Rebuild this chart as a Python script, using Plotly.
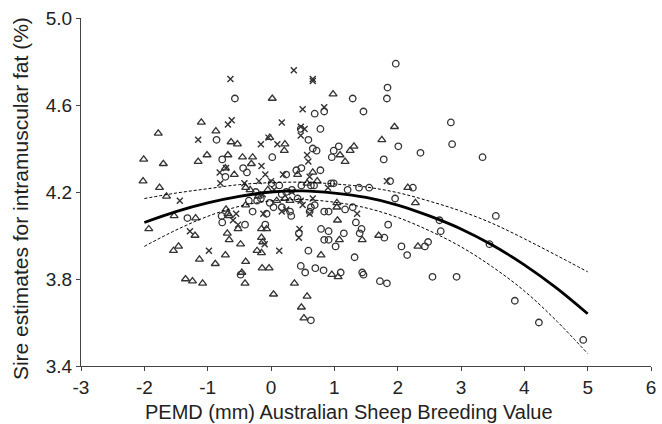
import plotly.graph_objects as go

# Sire groups: triangles, crosses, circles
tri_x = [0.02, 0.98, -1.10, -1.78, -0.87, -0.63, -0.53, -0.02, 0.22, 0.21, 1.31, 1.25, 1.09, 1.17, 1.75, 1.95,
         -2.01, -1.70, -1.15, -1.01, -0.68, -0.45, -0.29, -0.31, -0.72, -0.58, -0.40, -0.33, -2.02, -1.76, -1.65,
         0.42, 0.66, 2.16, 2.28, -0.05, -0.20, 0.22, 0.30, 0.57, 0.73, 0.09, 1.04, 1.04, 1.05, -0.40, -0.68, -0.71,
         -0.66, -1.19, -1.53, -1.93, -1.20, -0.69, -0.66, -0.52, -0.15, -0.07, -0.15, -0.13, -0.22, -0.15, -1.54,
         -1.46, -1.13, -0.88, -0.72, -0.48, -0.40, -0.46, -0.41, -1.35, -1.24, -1.08, -0.14, -0.03, 0.04, 0.37,
         0.57, 0.48, 0.52, 0.79, 1.08, 1.44, 1.70, 2.32, 0.96, 1.06]
tri_y = [4.63, 4.65, 4.52, 4.47, 4.48, 4.43, 4.42, 4.45, 4.42, 4.39, 4.41, 4.39, 4.37, 4.34, 4.44, 4.50,
         4.35, 4.33, 4.34, 4.37, 4.37, 4.36, 4.36, 4.33, 4.31, 4.28, 4.22, 4.21, 4.25, 4.22, 4.18,
         4.28, 4.29, 4.22, 4.15, 4.21, 4.18, 4.17, 4.16, 4.24, 4.25, 4.16, 4.15, 4.13, 4.07, 4.14, 4.10, 4.12,
         4.09, 4.08, 4.09, 4.03, 4.00, 4.01, 3.98, 4.03, 4.03, 4.03, 3.99, 3.97, 3.93, 3.92, 3.93,
         3.95, 3.89, 3.87, 3.91, 3.96, 3.88, 3.83, 3.78, 3.80, 3.79, 3.78, 3.85, 3.85, 3.73, 3.78,
         3.72, 3.67, 3.62, 3.91, 3.98, 3.98, 4.00, 3.95, 3.82, 3.81]

crs_x = [0.36, -0.64, 0.66, 0.66, 0.50, 0.84, -0.68, -0.62, -1.15, 0.17, 0.47, 0.53, 0.47, -0.16, -0.04, 0.10,
         -0.15, 0.57, 0.59, -0.81, -0.71, -0.80, -0.42, -1.44, -0.09, -0.19, 0.19, 0.61, 0.00, 1.83, -0.13, 0.05,
         0.33, 0.90, 0.47, 0.50, 0.66, 0.61, 1.36, -0.55, -0.60, -0.52, -0.12, 0.17, 0.24, -1.28, -0.98, -0.10,
         0.13, 0.45, 0.44]
crs_y = [4.76, 4.72, 4.72, 4.71, 4.58, 4.59, 4.51, 4.53, 4.44, 4.52, 4.50, 4.49, 4.46, 4.42, 4.45, 4.42,
         4.32, 4.37, 4.34, 4.29, 4.31, 4.24, 4.24, 4.16, 4.28, 4.25, 4.28, 4.27, 4.25, 4.25, 4.19, 4.21,
         4.20, 4.22, 4.16, 4.14, 4.17, 4.10, 4.10, 4.10, 4.07, 4.05, 4.10, 4.11, 4.12, 4.02, 3.93, 3.96,
         3.93, 4.03, 3.99]

cir_x = [-0.57, 1.29, 1.46, 1.84, 1.83, 1.97, 0.69, 0.84, 0.47, 0.78, 0.59, -0.86, 0.66, 0.72, 1.07, 0.99,
         0.96, 1.78, 2.01, 2.36, 2.84, 2.86, 3.34, 1.88, 2.24, -0.77, 0.02, -0.72, -0.44, -0.38, 0.78, 0.40,
         0.48, 0.24, 0.13, 0.01, -0.24, -0.22, -0.16, 0.17, 0.24, 0.33, 0.48, 0.63, 0.68, 0.95, 0.99, 1.21,
         1.39, 1.55, 1.96, 0.42, 0.17, 0.30, 0.32, 0.63, 0.61, 0.84, 0.91, 1.17, 1.29, 1.34, 1.43, 1.40,
         1.15, 0.79, 0.91, 0.84, 0.91, 1.02, 1.79, 1.85, 2.06, 2.15, 2.43, 2.48, 2.66, 2.68, 3.55, 3.45,
         2.55, 2.93, 1.72, 1.83, 3.85, 4.23, 4.93, 1.32, 0.59, 0.44, 0.47, 0.54, 0.70, 0.83, 1.10, 1.44,
         1.46, 0.63, -0.48, -1.32, -0.78, -0.77, -0.41, -0.29, -0.35, -0.09, -0.07, -0.02, 0.04, 0.69]
cir_y = [4.63, 4.63, 4.57, 4.68, 4.63, 4.79, 4.56, 4.57, 4.49, 4.49, 4.44, 4.44, 4.40, 4.39, 4.41, 4.39,
         4.36, 4.35, 4.41, 4.38, 4.52, 4.42, 4.36, 4.25, 4.22, 4.35, 4.36, 4.27, 4.31, 4.29, 4.30, 4.30,
         4.31, 4.28, 4.23, 4.24, 4.20, 4.16, 4.17, 4.19, 4.20, 4.21, 4.23, 4.23, 4.23, 4.24, 4.24, 4.21,
         4.22, 4.22, 4.17, 4.17, 4.13, 4.11, 4.09, 4.13, 4.11, 4.11, 4.11, 4.12, 4.13, 4.06, 4.03, 4.01,
         4.01, 4.03, 4.02, 3.98, 3.98, 3.95, 3.99, 4.05, 3.95, 3.91, 3.95, 3.97, 4.07, 4.02, 4.09, 3.96,
         3.81, 3.81, 3.79, 3.78, 3.70, 3.60, 3.52, 3.90, 3.93, 4.01, 3.86, 3.83, 3.85, 3.84, 3.83, 3.83,
         3.82, 3.61, 3.82, 4.08, 4.09, 4.06, 4.05, 4.11, 4.16, 4.05, 4.10, 4.15, 4.13, 4.14]

# Fitted curve and confidence limits
fit_x = [-2, -1.5, -1, -0.5, 0, 0.5, 1, 1.5, 2, 2.5, 3, 3.5, 4, 4.5, 5]
fit_y = [4.06, 4.11, 4.15, 4.18, 4.20, 4.205, 4.195, 4.175, 4.14, 4.09, 4.03, 3.955, 3.865, 3.76, 3.64]
upper_y = [4.17, 4.195, 4.215, 4.234, 4.243, 4.245, 4.237, 4.223, 4.197, 4.158, 4.112, 4.055, 3.985, 3.91, 3.833]
lower_y = [3.95, 4.025, 4.088, 4.134, 4.159, 4.165, 4.153, 4.127, 4.083, 4.022, 3.948, 3.855, 3.745, 3.61, 3.457]

x_ticks = [-3, -2, -1, 0, 1, 2, 3, 4, 5, 6]
x_tick_labels = ["-3", "-2", "-1", "0", "1", "2", "3", "4", "5", "6"]
y_ticks = [3.4, 3.8, 4.2, 4.6, 5.0]
y_tick_labels = ["3.4", "3.8", "4.2", "4.6", "5.0"]
x_title = "PEMD (mm) Australian Sheep Breeding Value"
y_title = "Sire estimates for intramuscular fat (%)"

mcol = "#333333"
tcol = "#222"
font_family = "Liberation Sans, Arial, sans-serif"

fig = go.Figure()
fig.add_trace(go.Scatter(x=tri_x, y=tri_y, mode="markers",
                         marker=dict(symbol="triangle-up-open", size=7, color=mcol, line=dict(width=1.3, color=mcol))))
fig.add_trace(go.Scatter(x=crs_x, y=crs_y, mode="markers",
                         marker=dict(symbol="x-thin-open", size=6, color=mcol, line=dict(width=1.4, color=mcol))))
fig.add_trace(go.Scatter(x=cir_x, y=cir_y, mode="markers",
                         marker=dict(symbol="circle-open", size=6.5, color=mcol, line=dict(width=1.3, color=mcol))))
fig.add_trace(go.Scatter(x=fit_x, y=upper_y, mode="lines", line=dict(color="black", width=1, dash="3px,2px", shape="spline")))
fig.add_trace(go.Scatter(x=fit_x, y=lower_y, mode="lines", line=dict(color="black", width=1, dash="3px,2px", shape="spline")))
fig.add_trace(go.Scatter(x=fit_x, y=fit_y, mode="lines", line=dict(color="black", width=2.8, shape="spline")))

fig.update_layout(
    width=662, height=424,
    margin=dict(l=81, r=6, t=18, b=58),
    paper_bgcolor="white", plot_bgcolor="white",
    showlegend=False,
    hovermode=False,
    font=dict(family=font_family, color=tcol, size=19),
    annotations=[
        dict(text=x_title, xref="paper", yref="paper", x=0.471, y=-0.132, xanchor="center", yanchor="middle",
             showarrow=False, font=dict(size=20, family=font_family, color=tcol)),
        dict(text=y_title, xref="paper", yref="paper", x=-0.105, y=0.48, xanchor="center", yanchor="middle",
             textangle=-90, showarrow=False, font=dict(size=21, family=font_family, color=tcol)),
    ],
)
fig.update_xaxes(range=[-3, 6], tickvals=x_ticks, ticktext=x_tick_labels, ticks="outside", ticklen=4, tickwidth=1,
                 tickcolor="#444", showline=True, linecolor="#444", linewidth=1, showgrid=False, zeroline=False,
                 tickfont=dict(size=19, family=font_family, color=tcol))
fig.update_yaxes(range=[3.4, 5.0], tickvals=y_ticks, ticktext=y_tick_labels, ticks="outside", ticklen=4, tickwidth=1,
                 tickcolor="#444", showline=True, linecolor="#444", linewidth=1, showgrid=False, zeroline=False,
                 tickfont=dict(size=19, family=font_family, color=tcol))

fig.write_html("out.html", config={"displayModeBar": False, "staticPlot": True},
               post_script="document.body.style.margin='0';document.body.style.overflow='hidden';")
